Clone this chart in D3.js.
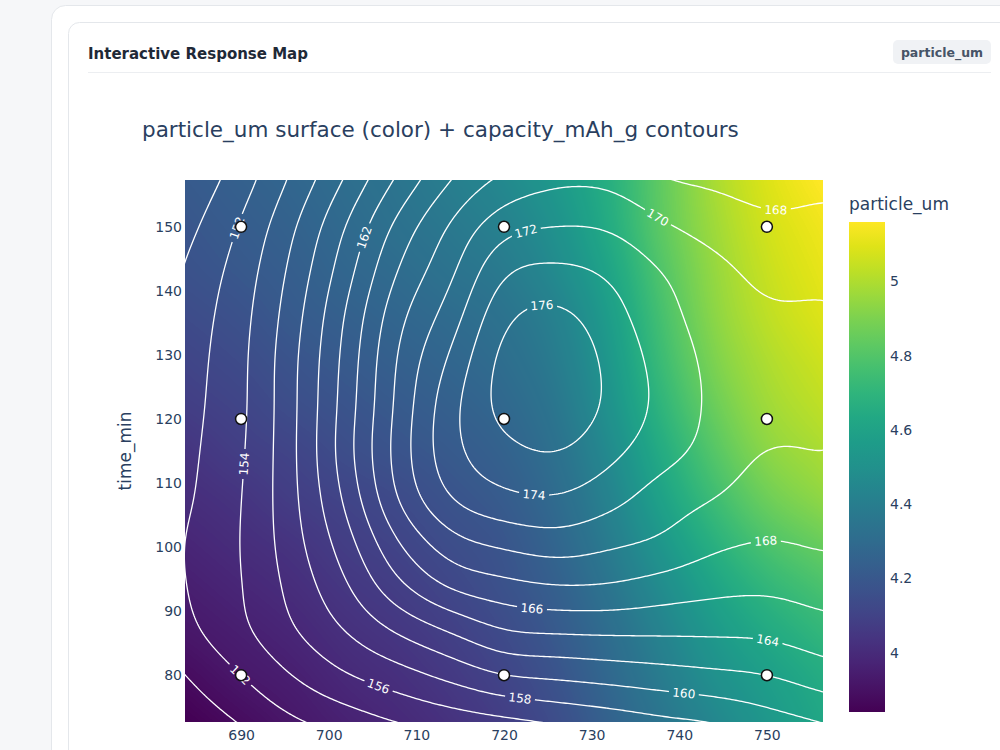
<!DOCTYPE html>
<html>
<head>
<meta charset="utf-8">
<script src="https://cdn.jsdelivr.net/npm/d3@7"></script>
<style>
  body { margin: 0; background: #f6f7f9; }
  svg { display: block; }
</style>
</head>
<body>
<svg id="chart" width="1000" height="750"></svg>
<script>
// grid of the fitted response surfaces
const tempGrid = [684, 690, 696, 702, 708, 714, 720, 726, 732, 738, 744, 750, 756];
const timeGrid = [73, 80, 87, 94, 101, 108, 115, 122, 129, 136, 143, 150, 157];

// capacity_mAh_g, one row per timeGrid entry (bottom to top)
const capacityGrid = [
  [148.7, 150.2, 151.8, 153.0, 154.2, 155.0, 155.7, 156.4, 157.0, 157.7, 158.2, 159.2, 160.1],
  [150.1, 152.0, 154.1, 155.9, 157.2, 158.6, 160.0, 160.4, 160.8, 161.2, 161.6, 162.0, 163.0],
  [151.6, 153.6, 155.9, 158.1, 160.3, 162.2, 164.0, 164.3, 164.4, 164.4, 164.4, 164.5, 165.2],
  [152.1, 153.9, 156.7, 159.8, 163.6, 166.4, 167.4, 168.0, 167.9, 167.2, 166.6, 166.4, 166.9],
  [152.2, 154.0, 157.3, 161.2, 166.1, 169.4, 170.6, 171.2, 170.5, 169.8, 168.5, 168.0, 168.3],
  [151.8, 153.9, 157.6, 162.5, 168.3, 172.2, 173.7, 174.0, 172.8, 171.1, 170.1, 169.0, 169.2],
  [151.6, 153.7, 157.7, 163.2, 168.9, 173.4, 175.4, 176.1, 174.6, 172.8, 171.3, 169.9, 170.05],
  [151.4, 153.55, 157.65, 162.95, 168.6, 173.4, 176.7, 177.6, 175.6, 173.5, 171.6, 171.0, 170.6],
  [151.2, 153.5, 157.6, 162.7, 168.3, 172.4, 176.7, 177.7, 175.5, 173.3, 171.5, 171.0, 170.8],
  [150.9, 153.3, 157.2, 162.2, 167.5, 171.0, 175.6, 176.5, 174.8, 172.7, 171.1, 170.3, 170.3],
  [150.4, 152.9, 156.6, 161.2, 166.2, 169.6, 173.8, 174.5, 173.7, 172.0, 170.6, 169.5, 169.5],
  [149.5, 152.2, 155.8, 160.1, 164.7, 168.3, 171.3, 172.0, 171.8, 170.3, 169.2, 168.4, 168.5],
  [148.5, 151.1, 154.5, 158.3, 162.5, 166.1, 168.6, 169.7, 169.6, 168.2, 167.7, 167.3, 167.6]
];

// particle_um, same layout
const particleGrid = [
  [3.84, 3.88, 3.92, 3.96, 3.99, 4.03, 4.08, 4.15, 4.25, 4.35, 4.45, 4.54, 4.62],
  [3.88, 3.92, 3.95, 3.99, 4.02, 4.06, 4.11, 4.18, 4.28, 4.39, 4.50, 4.58, 4.65],
  [3.92, 3.95, 3.98, 4.02, 4.05, 4.09, 4.14, 4.21, 4.31, 4.43, 4.55, 4.64, 4.71],
  [3.95, 3.98, 4.01, 4.05, 4.08, 4.12, 4.17, 4.24, 4.35, 4.48, 4.61, 4.71, 4.78],
  [3.98, 4.01, 4.04, 4.08, 4.11, 4.15, 4.19, 4.27, 4.39, 4.54, 4.68, 4.79, 4.86],
  [4.01, 4.04, 4.08, 4.11, 4.14, 4.18, 4.22, 4.30, 4.43, 4.60, 4.75, 4.87, 4.94],
  [4.04, 4.08, 4.11, 4.15, 4.18, 4.21, 4.25, 4.33, 4.47, 4.65, 4.81, 4.93, 4.99],
  [4.08, 4.11, 4.15, 4.18, 4.21, 4.24, 4.28, 4.36, 4.51, 4.70, 4.86, 4.97, 5.03],
  [4.11, 4.14, 4.18, 4.21, 4.24, 4.27, 4.31, 4.39, 4.54, 4.74, 4.90, 5.00, 5.06],
  [4.14, 4.17, 4.21, 4.24, 4.27, 4.30, 4.34, 4.42, 4.57, 4.77, 4.93, 5.03, 5.09],
  [4.17, 4.20, 4.23, 4.27, 4.30, 4.34, 4.38, 4.47, 4.61, 4.80, 4.95, 5.05, 5.11],
  [4.19, 4.22, 4.25, 4.29, 4.33, 4.37, 4.42, 4.51, 4.65, 4.83, 4.97, 5.07, 5.13],
  [4.21, 4.24, 4.27, 4.31, 4.35, 4.40, 4.46, 4.55, 4.67, 4.84, 4.99, 5.09, 5.16]
];

// design points (3x3 factorial)
const designTemp = [690, 720, 750];
const designTime = [80, 120, 150];

const capacityLevels = d3.range(150, 178, 2);
const xTicks = [690, 700, 710, 720, 730, 740, 750];
const yTicks = [80, 90, 100, 110, 120, 130, 140, 150];
const colorTicks = [4, 4.2, 4.4, 4.6, 4.8, 5];

// where the inline contour labels sit: [level, temp, time]
const labelSpots = [
  [152, 689.9, 149.8], [152, 689.3, 79.2], [154, 690.2, 113.1], [156, 705.6, 77.7],
  [158, 721.8, 76.4], [160, 740.6, 77.2], [162, 703.9, 148.4], [164, 750.0, 85.2],
  [166, 723.2, 90.2], [168, 750.9, 152.2], [168, 749.8, 101.1], [170, 737.8, 151.9],
  [172, 722.4, 149.8], [174, 723.5, 107.7], [176, 724.4, 136.7]
];

const margin = { top: 180, right: 177, bottom: 28, left: 185 };
const width = 1000 - margin.left - margin.right;   // 638
const height = 750 - margin.top - margin.bottom;   // 542
const fontPlot = '"DejaVu Sans", Verdana, sans-serif';
const fontCard = '"DejaVu Sans", sans-serif';
const ink = '#2a3f5f';

const svg = d3.select('#chart');

// ---- page chrome ----
svg.append('rect').attr('width', 1000).attr('height', 750).attr('fill', '#f6f7f9');
svg.append('rect').attr('x', 51.5).attr('y', 5.5).attr('width', 1000).attr('height', 800)
  .attr('rx', 14).attr('fill', '#fff').attr('stroke', '#e4e7eb');
svg.append('rect').attr('x', 68.5).attr('y', 22.5).attr('width', 960).attr('height', 800)
  .attr('rx', 11).attr('fill', '#fff').attr('stroke', '#e4e7eb');
svg.append('text').attr('x', 88).attr('y', 59)
  .attr('font-family', fontCard).attr('font-size', 15)
  .attr('font-weight', 700).attr('fill', '#1f2937').text('Interactive Response Map');
svg.append('rect').attr('x', 893).attr('y', 40).attr('width', 98).attr('height', 24)
  .attr('rx', 5).attr('fill', '#f0f2f5');
svg.append('text').attr('x', 942).attr('y', 57).attr('text-anchor', 'middle')
  .attr('font-family', fontCard).attr('font-size', 12.5)
  .attr('font-weight', 700).attr('fill', '#475467').text('particle_um');
svg.append('line').attr('x1', 88).attr('x2', 991).attr('y1', 72.5).attr('y2', 72.5)
  .attr('stroke', '#eceef1');

// ---- scales ----
const x = d3.scaleLinear().domain([683.6, 756.4]).range([margin.left, margin.left + width]);
const y = d3.scaleLinear().domain([72.7, 157.3]).range([margin.top + height, margin.top]);
const allParticle = particleGrid.flat();
const color = d3.scaleSequential(d3.interpolateViridis).domain(d3.extent(allParticle));

// smooth (bicubic) sampling of a value grid, used only to draw it
function cubic(p0, p1, p2, p3, u) {
  return p1 + 0.5 * u * (p2 - p0 + u * (2 * p0 - 5 * p1 + 4 * p2 - p3 + u * (3 * (p1 - p2) + p3 - p0)));
}
function makeSampler(xs, ys, rows) {
  const nx = xs.length, ny = ys.length, sx = xs[1] - xs[0], sy = ys[1] - ys[0];
  const get = (i, j) => {
    if (i < 0) return 2 * get(0, j) - get(1, j);
    if (i > nx - 1) return 2 * get(nx - 1, j) - get(nx - 2, j);
    if (j < 0) return 2 * get(i, 0) - get(i, 1);
    if (j > ny - 1) return 2 * get(i, ny - 1) - get(i, ny - 2);
    return rows[j][i];
  };
  return (xv, yv) => {
    const fx = (xv - xs[0]) / sx, fy = (yv - ys[0]) / sy;
    const i = Math.max(0, Math.min(nx - 2, Math.floor(fx)));
    const j = Math.max(0, Math.min(ny - 2, Math.floor(fy)));
    const u = fx - i, w = fy - j;
    const row = k => cubic(get(i - 1, j + k), get(i, j + k), get(i + 1, j + k), get(i + 2, j + k), u);
    return cubic(row(-1), row(0), row(1), row(2), w);
  };
}
// light box blur so hand-read grid values give smooth lines
function boxBlur(vals, w, h, r, passes) {
  const tmp = new Float64Array(vals.length);
  const n = 2 * r + 1;
  for (let p = 0; p < passes; p++) {
    for (let j = 0; j < h; j++) {
      for (let i = 0; i < w; i++) {
        let s = 0;
        for (let k = -r; k <= r; k++) s += vals[j * w + Math.max(0, Math.min(w - 1, i + k))];
        tmp[j * w + i] = s / n;
      }
    }
    for (let j = 0; j < h; j++) {
      for (let i = 0; i < w; i++) {
        let s = 0;
        for (let k = -r; k <= r; k++) s += tmp[Math.max(0, Math.min(h - 1, j + k)) * w + i];
        vals[j * w + i] = s / n;
      }
    }
  }
}
const particleAt = makeSampler(tempGrid, timeGrid, particleGrid);
const capacityAt = makeSampler(tempGrid, timeGrid, capacityGrid);

// ---- heatmap ----
const lut = d3.range(256).map(k => d3.rgb(d3.interpolateViridis(k / 255)));
const [cmin, cmax] = color.domain();
const canvas = document.createElement('canvas');
canvas.width = width; canvas.height = height;
const ctx = canvas.getContext('2d');
const img = ctx.createImageData(width, height);
for (let py = 0; py < height; py++) {
  const t = y.invert(margin.top + py + 0.5);
  for (let px = 0; px < width; px++) {
    const v = particleAt(x.invert(margin.left + px + 0.5), t);
    const k = Math.max(0, Math.min(255, Math.round((v - cmin) / (cmax - cmin) * 255)));
    const c = lut[k], o = (py * width + px) * 4;
    img.data[o] = c.r; img.data[o + 1] = c.g; img.data[o + 2] = c.b; img.data[o + 3] = 255;
  }
}
ctx.putImageData(img, 0, 0);

const defs = svg.append('defs');
defs.append('clipPath').attr('id', 'plotClip').append('rect')
  .attr('x', margin.left).attr('y', margin.top).attr('width', width).attr('height', height);

svg.append('image').attr('x', margin.left).attr('y', margin.top)
  .attr('width', width).attr('height', height)
  .attr('preserveAspectRatio', 'none')
  .attr('href', canvas.toDataURL());

// ---- contours ----
const ex = [678.5, 761.5], ey = [65.5, 164.5];
const nx = 365, ny = 318;
const stepX = (ex[1] - ex[0]) / (nx - 1), stepY = (ey[1] - ey[0]) / (ny - 1);
const values = new Float64Array(nx * ny);
for (let j = 0; j < ny; j++) {
  for (let i = 0; i < nx; i++) values[j * nx + i] = capacityAt(ex[0] + i * stepX, ey[1] - j * stepY);
}
boxBlur(values, nx, ny, 6, 3);
const contours = d3.contours().size([nx, ny]).thresholds(capacityLevels)(values);
const toPx = (cx, cy) => [x(ex[0] + (cx - 0.5) * stepX), y(ey[1] - (cy - 0.5) * stepY)];
const path = d3.geoPath(d3.geoTransform({
  point(cx, cy) { const p = toPx(cx, cy); this.stream.point(p[0], p[1]); }
}));

// label positions snapped onto their contour
const labels = labelSpots.map(([level, tv, tt]) => {
  const c = contours.find(d => d.value === level);
  const ax = x(tv), ay = y(tt);
  let best = null, bd = Infinity;
  c.coordinates.forEach(poly => poly.forEach(ring => {
    const pts = ring.map(p => toPx(p[0], p[1]));
    pts.forEach((p, k) => {
      const d = (p[0] - ax) ** 2 + (p[1] - ay) ** 2;
      if (d < bd) { bd = d; best = { pts, k }; }
    });
  }));
  const { pts, k } = best;
  const a = pts[Math.max(0, k - 4)], b = pts[Math.min(pts.length - 1, k + 4)];
  let ang = Math.atan2(b[1] - a[1], b[0] - a[0]) * 180 / Math.PI;
  if (ang > 90) ang -= 180;
  if (ang < -90) ang += 180;
  return { level, x: pts[k][0], y: pts[k][1], ang };
});

const mask = defs.append('mask').attr('id', 'labelGaps').attr('maskUnits', 'userSpaceOnUse')
  .attr('x', 0).attr('y', 0).attr('width', 1000).attr('height', 750);
mask.append('rect').attr('width', 1000).attr('height', 750).attr('fill', '#fff');
mask.selectAll('rect.gap').data(labels).join('rect').attr('class', 'gap')
  .attr('x', -15).attr('y', -8).attr('width', 30).attr('height', 16).attr('fill', '#000')
  .attr('transform', d => `translate(${d.x},${d.y}) rotate(${d.ang})`);

const plot = svg.append('g').attr('clip-path', 'url(#plotClip)');
plot.append('g').attr('mask', 'url(#labelGaps)')
  .selectAll('path').data(contours).join('path')
  .attr('d', path).attr('fill', 'none').attr('stroke', '#fff').attr('stroke-width', 1.3);

plot.selectAll('text.clabel').data(labels).join('text').attr('class', 'clabel')
  .attr('transform', d => `translate(${d.x},${d.y}) rotate(${d.ang})`)
  .attr('text-anchor', 'middle').attr('dy', '0.36em')
  .attr('font-family', fontPlot).attr('font-size', 12).attr('fill', '#fff')
  .text(d => d.level);

// design points
const design = d3.cross(designTemp, designTime);
plot.selectAll('circle').data(design).join('circle')
  .attr('cx', d => x(d[0])).attr('cy', d => y(d[1])).attr('r', 5.5)
  .attr('fill', '#fff').attr('stroke', '#111').attr('stroke-width', 1.5);

// ---- axes ----
const xAxis = svg.append('g').attr('transform', `translate(0,${margin.top + height})`)
  .call(d3.axisBottom(x).tickValues(xTicks).tickSize(0).tickPadding(8));
const yAxis = svg.append('g').attr('transform', `translate(${margin.left},0)`)
  .call(d3.axisLeft(y).tickValues(yTicks).tickSize(0).tickPadding(3));
[xAxis, yAxis].forEach(g => {
  g.select('.domain').remove();
  g.selectAll('text').attr('font-family', fontPlot).attr('font-size', 14).attr('fill', ink);
});

svg.append('text').attr('transform', `translate(125,${margin.top + height / 2}) rotate(-90)`)
  .attr('text-anchor', 'middle').attr('dy', '0.35em')
  .attr('font-family', fontPlot).attr('font-size', 17).attr('fill', ink).text('time_min');

svg.append('text').attr('x', 142).attr('y', 137)
  .attr('font-family', fontPlot).attr('font-size', 21.5).attr('fill', ink)
  .text('particle_um surface (color) + capacity_mAh_g contours');

// ---- colorbar ----
const cbX = 849, cbW = 36, cbTop = 222, cbBottom = 712;
const cy = d3.scaleLinear().domain(color.domain()).range([cbBottom, cbTop]);
const grad = defs.append('linearGradient').attr('id', 'cbGrad')
  .attr('x1', 0).attr('x2', 0).attr('y1', 1).attr('y2', 0);
grad.selectAll('stop').data(d3.range(0, 1.0001, 0.05)).join('stop')
  .attr('offset', d => d).attr('stop-color', d => d3.interpolateViridis(d));
svg.append('rect').attr('x', cbX).attr('y', cbTop).attr('width', cbW)
  .attr('height', cbBottom - cbTop).attr('fill', 'url(#cbGrad)');
const cAxis = svg.append('g').attr('transform', `translate(${cbX + cbW},0)`)
  .call(d3.axisRight(cy).tickValues(colorTicks).tickSize(0).tickPadding(5).tickFormat(d3.format('~g')));
cAxis.select('.domain').remove();
cAxis.selectAll('text').attr('font-family', fontPlot).attr('font-size', 14).attr('fill', ink);
svg.append('text').attr('x', cbX).attr('y', 210)
  .attr('font-family', fontPlot).attr('font-size', 17).attr('fill', ink).text('particle_um');
</script>
</body>
</html>
